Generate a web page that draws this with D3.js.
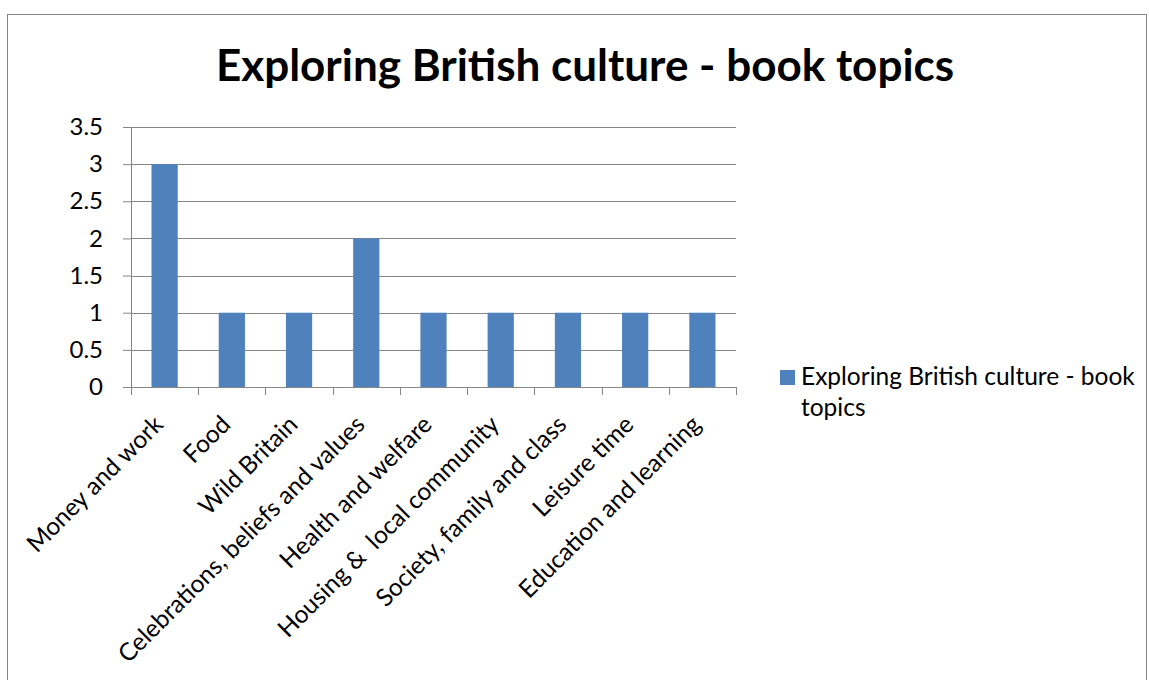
<!DOCTYPE html>
<html>
<head>
<meta charset="utf-8">
<script src="https://cdn.jsdelivr.net/npm/d3@7"></script>
<style>
  body { margin: 0; background: #fff; }
  svg { font-family: Lato, "Open Sans", sans-serif; }
  .axis { font-family: Lato, "Open Sans", sans-serif; }
  .axis text { font-size: 24px; fill: #000; }
  .axis .lbl { font-size: 24.5px; }
  .axis path, .axis line { stroke: #868686; }
</style>
</head>
<body>
<script>
// chart data
const categories = ["Money and work", "Food", "Wild Britain", "Celebrations, beliefs and values",
    "Health and welfare", "Housing &  local community", "Society, family and class",
    "Leisure time", "Education and learning"];
const values = [3, 1, 1, 2, 1, 1, 1, 1, 1];
const yTicks = [0, 0.5, 1, 1.5, 2, 2.5, 3, 3.5];
const seriesName = "Exploring British culture - book topics";

const svg = d3.select("body").append("svg")
    .attr("width", 1149)
    .attr("height", 680);

// outer border
svg.append("rect")
    .attr("x", 7.5).attr("y", 14.5)
    .attr("width", 1139).attr("height", 700)
    .attr("fill", "#fff")
    .attr("stroke", "#868686");

svg.append("text")
    .attr("x", 585).attr("y", 81)
    .attr("text-anchor", "middle")
    .style("font-size", "44px")
    .style("font-weight", "bold")
    .text(seriesName);

let margin = { left: 131, top: 127 },
    width = 605,
    height = 260,
    g = svg.append("g").attr("transform", "translate(" + margin.left + "," + margin.top + ")");

let x = d3.scaleBand()
    .domain(categories)
    .range([0, width])
    .paddingInner(0.61)
    .paddingOuter(0.305);

let y = d3.scaleLinear()
    .domain([0, 3.5])
    .range([height, 0]);

// gridlines
g.append("g")
    .selectAll("line")
    .data(yTicks)
    .enter().append("line")
    .attr("x1", 0).attr("x2", width)
    .attr("y1", d => Math.round(y(d)) + 0.5).attr("y2", d => Math.round(y(d)) + 0.5)
    .attr("stroke", "#868686");

g.selectAll(".bar")
    .data(values)
    .enter().append("rect")
    .attr("class", "bar")
    .attr("x", (d, i) => x(categories[i]))
    .attr("y", d => y(d))
    .attr("width", x.bandwidth())
    .attr("height", d => height - y(d))
    .attr("fill", "#4f81bd");

// y axis
let yAxis = g.append("g")
    .attr("class", "axis")
    .call(d3.axisLeft(y).tickValues(yTicks).tickSize(8).tickPadding(20).tickFormat(d3.format("")));
yAxis.select(".domain").attr("d", "M0.5,0V" + height);

// x axis with ticks at band boundaries
let xb = d3.scaleLinear().domain([0, categories.length]).range([0, width]);
let xAxis = g.append("g")
    .attr("class", "axis")
    .attr("transform", "translate(0," + height + ")");
xAxis.append("line")
    .attr("x1", 0).attr("x2", width)
    .attr("y1", 0.5).attr("y2", 0.5);
xAxis.selectAll(".tk")
    .data(d3.range(categories.length + 1))
    .enter().append("line")
    .attr("class", "tk")
    .attr("x1", d => Math.round(xb(d)) + 0.5).attr("x2", d => Math.round(xb(d)) + 0.5)
    .attr("y1", 0).attr("y2", 8);
xAxis.selectAll(".lbl")
    .data(categories)
    .enter().append("text")
    .attr("class", "lbl")
    .attr("text-anchor", "end")
    .attr("transform", d => "translate(" + (x(d) + x.bandwidth() / 2) + ",39) rotate(-45)")
    .style("white-space", "pre")
    .text(d => d);

// legend
let legend = svg.append("g").attr("transform", "translate(780,370)");
legend.append("rect")
    .attr("width", 15).attr("height", 15)
    .attr("fill", "#4f81bd");
legend.append("text")
    .attr("x", 21).attr("y", 15)
    .style("font-size", "24.5px")
    .text("Exploring British culture - book");
legend.append("text")
    .attr("x", 21).attr("y", 46)
    .style("font-size", "24.5px")
    .text("topics");
</script>
</body>
</html>
